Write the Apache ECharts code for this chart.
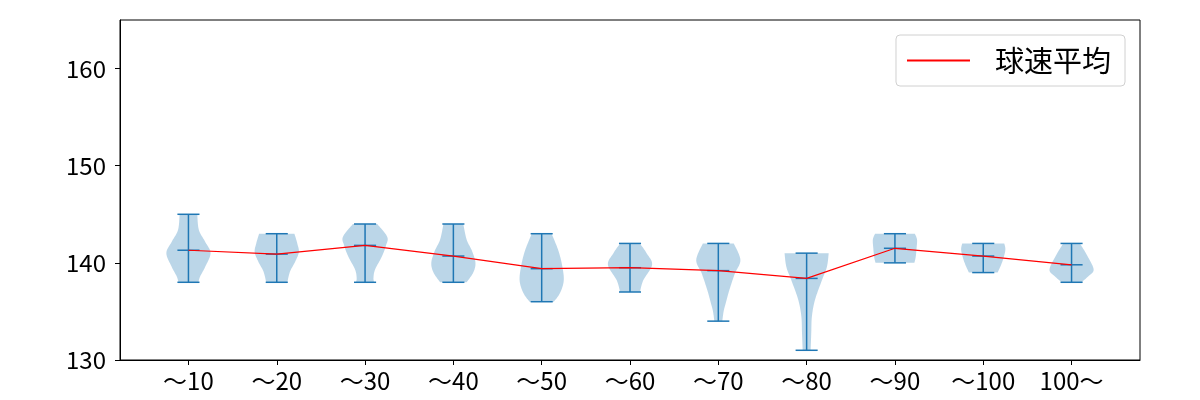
<!DOCTYPE html>
<html>
<head>
<meta charset="utf-8">
<script src="https://cdn.jsdelivr.net/npm/echarts@6/dist/echarts.min.js"></script>
<style>html,body{margin:0;padding:0;background:#fff;}#c{width:1200px;height:400px;}</style>
</head>
<body>
<div id="c"></div>
<script>
const categories = ['〜10','〜20','〜30','〜40','〜50','〜60','〜70','〜80','〜90','〜100','100〜'];
const means = [141.3, 140.9, 141.8, 140.7, 139.4, 139.5, 139.2, 138.4, 141.5, 140.7, 139.8];
const maxs  = [145, 143, 144, 144, 143, 142, 142, 141, 143, 142, 142];
const mins  = [138, 138, 138, 138, 136, 137, 134, 131, 140, 139, 138];
// violin outline: [speed, relative half-width]
const profile10  = [[145,0.4],[143.4,0.47],[142.2,0.75],[141.0,1.0],[139.6,0.76],[138.6,0.53],[138,0.45]];
const profile20  = [[143,0.8],[142.0,0.93],[141.1,1.0],[140.1,0.83],[139.1,0.6],[138,0.48]];
const profile30  = [[144,0.55],[142.7,1.0],[141.8,0.95],[140.6,0.75],[139.3,0.45],[138.4,0.38],[138,0.42]];
const profile40  = [[144,0.45],[142.4,0.6],[141.2,0.85],[140,1.0],[139,0.9],[138,0.6]];
const profile50  = [[143,0.45],[141.3,0.75],[139.8,0.92],[138.2,1.0],[136.9,0.83],[136,0.55]];
const profile60  = [[142,0.45],[141,0.75],[139.8,1.0],[138.2,0.6],[137,0.45]];
const profile70  = [[142,0.7],[140.3,1.0],[138.9,0.75],[137.2,0.5],[135.8,0.33],[135,0.24],[134,0.18]];
const profile80  = [[141,1.0],[139.6,0.92],[138.25,0.7],[136.2,0.38],[134.5,0.24],[132.8,0.21],[131,0.18]];
const profile90  = [[143,0.9],[142.4,1.0],[141.5,0.98],[140.6,0.94],[140,0.88]];
const profile100 = [[142,0.95],[141.3,1.0],[140.1,0.86],[139,0.65]];
const profile100p= [[142,0.38],[140.7,0.72],[139.3,1.0],[138.6,0.75],[138,0.45]];
const profiles = [profile10,profile20,profile30,profile40,profile50,profile60,profile70,profile80,profile90,profile100,profile100p];
const yTicks = [130, 140, 150, 160];
const xTicks = categories.map((c, i) => i + 1);

const VIOLIN_HALF = 0.25, CAP_HALF = 0.125;
const BLUE = '#1f77b4';
const FONT = '"Noto Sans CJK JP", "Noto Sans", sans-serif';

// Catmull-Rom smoothing of outline (rendering only)
function smoothSide(pts) {
  const out = [];
  const n = pts.length;
  for (let k = 0; k < n - 1; k++) {
    const p0 = pts[Math.max(k - 1, 0)], p1 = pts[k], p2 = pts[k + 1], p3 = pts[Math.min(k + 2, n - 1)];
    const steps = 12;
    for (let s = 0; s < steps; s++) {
      const t = s / steps, t2 = t * t, t3 = t2 * t;
      const f = (a, b, c, d) => 0.5 * ((2 * b) + (-a + c) * t + (2 * a - 5 * b + 4 * c - d) * t2 + (-a + 3 * b - 3 * c + d) * t3);
      out.push([f(p0[0], p1[0], p2[0], p3[0]), f(p0[1], p1[1], p2[1], p3[1])]);
    }
  }
  out.push(pts[n - 1]);
  return out;
}

const chart = echarts.init(document.getElementById('c'));
chart.setOption({
  animation: false,
  grid: { left: 120, right: 60, top: 20, bottom: 40, show: true, borderColor: '#000', borderWidth: 1, backgroundColor: 'transparent' },
  xAxis: {
    type: 'value', min: 0.225, max: 11.775,
    splitLine: { show: false },
    axisLine: { show: true, lineStyle: { color: '#000', width: 1 } },
    axisTick: { show: true, customValues: xTicks, length: 5, lineStyle: { color: '#000' } },
    axisLabel: { customValues: xTicks, formatter: v => categories[Math.round(v) - 1] || '', color: '#000', fontSize: 24, fontFamily: FONT, margin: 9 }
  },
  yAxis: {
    type: 'value', min: 130, max: 165,
    splitLine: { show: false },
    axisLine: { show: true, lineStyle: { color: '#000', width: 1 } },
    axisTick: { show: true, customValues: yTicks, length: 5, lineStyle: { color: '#000' } },
    axisLabel: { customValues: yTicks, color: '#000', fontSize: 24, fontFamily: FONT, margin: 14 }
  },
  legend: {
    data: ['球速平均'], right: 75, top: 35,
    padding: [11, 14, 11, 11],
    borderColor: '#d0d0d0', borderWidth: 1, borderRadius: 4, backgroundColor: 'rgba(255,255,255,0.8)',
    icon: 'rect', itemWidth: 63, itemHeight: 2,
    textStyle: { fontSize: 29, fontFamily: FONT, color: '#000', padding: [0, 0, 0, 20] }
  },
  series: [
    {
      type: 'custom', name: 'violin', silent: true, clip: true, z: 1,
      data: categories.map((c, i) => [i + 1, means[i]]),
      renderItem: function (params, api) {
        const i = params.dataIndex;
        const x = i + 1;
        const cx = api.coord([x, 140])[0];
        const half = api.size([VIOLIN_HALF, 0])[0];
        const prof = profiles[i].map(p => [api.coord([x, p[0]])[1], p[1]]);
        const sm = smoothSide(prof);
        const pts = [];
        sm.forEach(p => pts.push([cx + p[1] * half, p[0]]));
        for (let k = sm.length - 1; k >= 0; k--) pts.push([cx - sm[k][1] * half, sm[k][0]]);
        return { type: 'polygon', shape: { points: pts }, style: { fill: 'rgba(31,119,180,0.3)', stroke: null } };
      }
    },
    {
      type: 'custom', name: 'stats', silent: true, clip: true, z: 2,
      data: categories.map((c, i) => [i + 1, means[i]]),
      renderItem: function (params, api) {
        const i = params.dataIndex;
        const x = i + 1;
        const cx = api.coord([x, 140])[0];
        const ch = api.size([CAP_HALF, 0])[0];
        const yMax = api.coord([x, maxs[i]])[1];
        const yMin = api.coord([x, mins[i]])[1];
        const yMean = api.coord([x, means[i]])[1];
        const st = { stroke: BLUE, lineWidth: 1.5 };
        return { type: 'group', children: [
          { type: 'line', shape: { x1: cx, y1: yMax, x2: cx, y2: yMin }, style: st },
          { type: 'line', shape: { x1: cx - ch, y1: yMax, x2: cx + ch, y2: yMax }, style: st },
          { type: 'line', shape: { x1: cx - ch, y1: yMin, x2: cx + ch, y2: yMin }, style: st },
          { type: 'line', shape: { x1: cx - ch, y1: yMean, x2: cx + ch, y2: yMean }, style: st }
        ]};
      }
    },
    {
      type: 'line', name: '球速平均', z: 3,
      data: categories.map((c, i) => [i + 1, means[i]]),
      showSymbol: false, symbol: 'none',
      itemStyle: { color: '#ff0000' },
      lineStyle: { color: '#ff0000', width: 1.2 }
    }
  ]
});
</script>
</body>
</html>
